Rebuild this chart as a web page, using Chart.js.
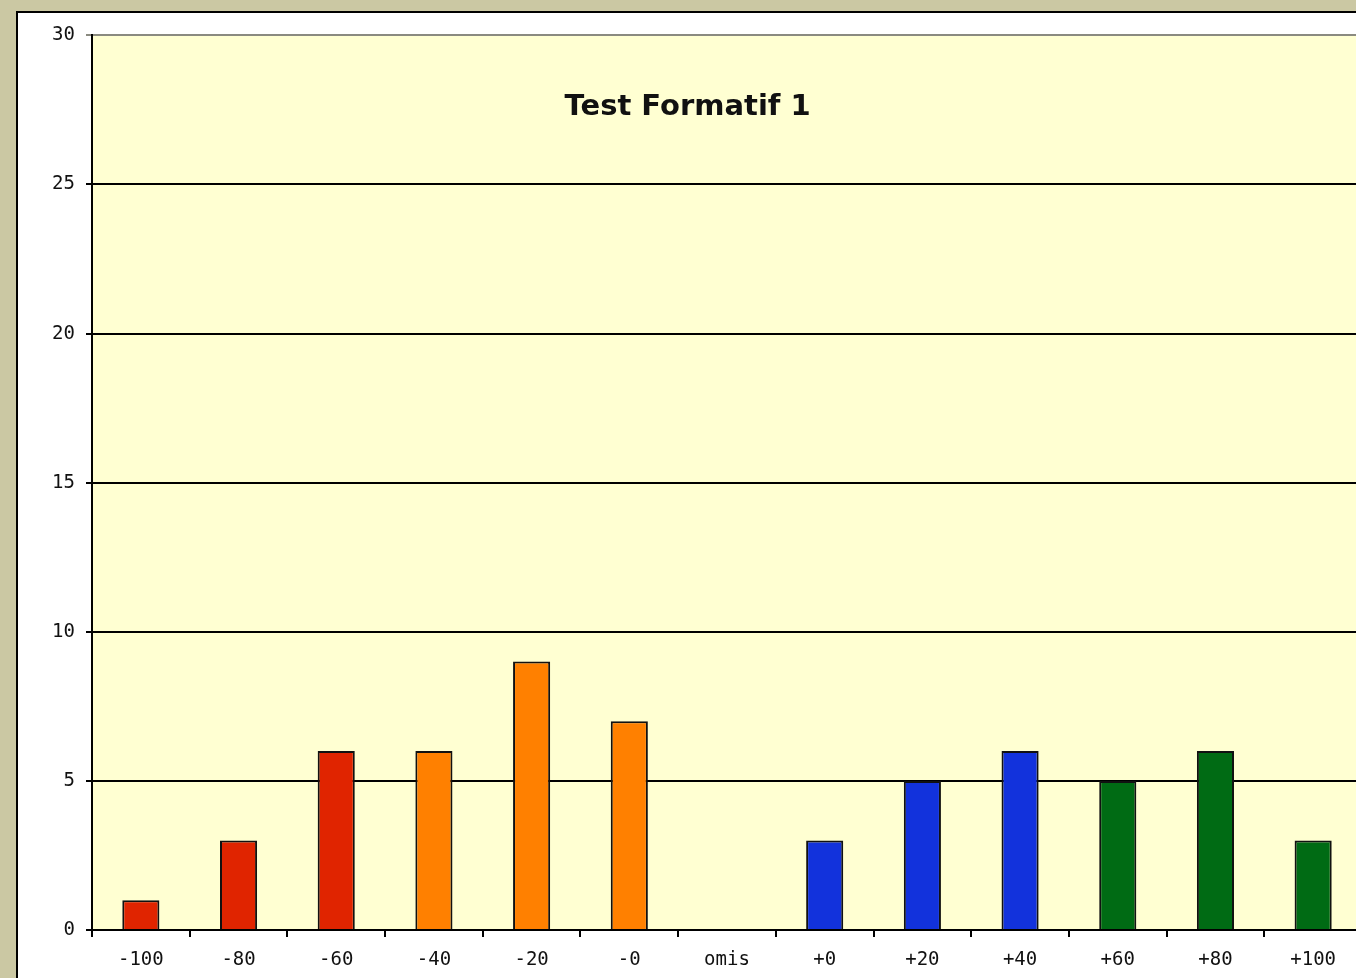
<!DOCTYPE html>
<html>
<head>
<meta charset="utf-8">
<script src="https://cdn.jsdelivr.net/npm/chart.js@4/dist/chart.umd.min.js"></script>
<style>
  html, body { margin: 0; padding: 0; overflow: hidden; }
  body { width: 1356px; height: 978px; background: #cbc8a3; position: relative; }
  #panel { position: absolute; left: 16px; top: 11px; width: 1400px; height: 1000px;
           border-left: 2px solid #000; border-top: 2px solid #000; background: #fff; }
  #wrap { position: absolute; left: 0; top: 0; width: 1344px; height: 965px; }
</style>
</head>
<body>
<div id="panel"><div id="wrap"><canvas id="myChart"></canvas></div></div>
<script>
// categories and values
const categories = ['-100', '-80', '-60', '-40', '-20', '-0', 'omis', '+0', '+20', '+40', '+60', '+80', '+100'];
const counts = [1, 3, 6, 6, 9, 7, 0, 3, 5, 6, 5, 6, 3];
const barColors = [
  '#e02400', '#e02400', '#e02400',
  '#ff8000', '#ff8000', '#ff8000',
  '#ff8000',
  '#1232dc', '#1232dc', '#1232dc',
  '#006b14', '#006b14', '#006b14'
];
const yTicks = [0, 5, 10, 15, 20, 25, 30];

const plotBg = {
  id: 'plotBg',
  beforeDraw(chart) {
    const a = chart.chartArea, c = chart.ctx;
    c.save();
    c.fillStyle = '#ffffd2';
    c.fillRect(a.left, a.top, a.right - a.left, a.bottom - a.top);
    c.restore();
  }
};

const innerTitle = {
  id: 'innerTitle',
  afterDraw(chart) {
    const a = chart.chartArea, c = chart.ctx;
    c.save();
    c.fillStyle = '#111';
    c.font = 'bold 29px "DejaVu Sans", Verdana, sans-serif';
    c.textAlign = 'center';
    c.textBaseline = 'middle';
    c.fillText('Test Formatif 1', a.left + (a.right - a.left) * 0.469, a.top + 72);
    c.restore();
  }
};

var ctx = document.getElementById('myChart');
var myChart = new Chart(ctx, {
  type: 'bar',
  data: {
    labels: categories,
    datasets: [{
      data: counts,
      backgroundColor: barColors,
      borderColor: '#111',
      borderWidth: 2,
      barPercentage: 0.38,
      categoryPercentage: 1
    }]
  },
  options: {
    responsive: true,
    maintainAspectRatio: false,
    animation: false,
    layout: { padding: { left: 0, right: 0, top: 22, bottom: 0 } },
    plugins: {
      legend: { display: false },
      tooltip: { enabled: false }
    },
    scales: {
      x: {
        grid: {
          offset: true,
          drawOnChartArea: false,
          drawTicks: true,
          tickLength: 7,
          color: '#000',
          lineWidth: 2
        },
        border: { color: '#000', width: 2 },
        ticks: {
          color: '#111',
          padding: 12,
          font: { family: '"DejaVu Sans Mono", monospace', size: 19 }
        },
        afterFit(scale) { scale.height = 48; }
      },
      y: {
        min: 0,
        max: 30,
        afterBuildTicks(scale) { scale.ticks = yTicks.map(v => ({ value: v })); },
        grid: {
          color: ctx => ctx.tick && ctx.tick.value === 30 ? '#8a8a80' : '#000',
          lineWidth: 2,
          tickLength: 6
        },
        border: { color: '#000', width: 2 },
        ticks: {
          color: '#111',
          padding: 11,
          font: { family: '"DejaVu Sans Mono", monospace', size: 19 }
        },
        afterFit(scale) { scale.width = 74; }
      }
    }
  },
  plugins: [plotBg, innerTitle]
});
</script>
</body>
</html>
